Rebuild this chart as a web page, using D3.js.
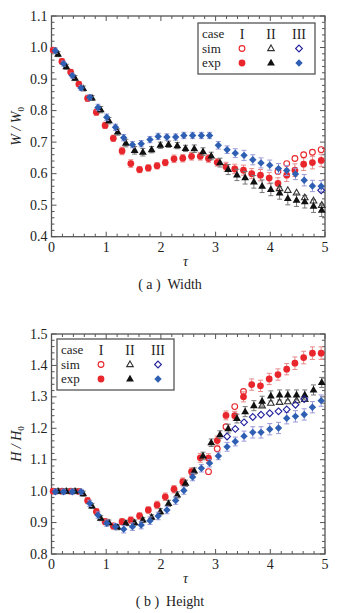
<!DOCTYPE html>
<html><head><meta charset="utf-8">
<script src="https://cdn.jsdelivr.net/npm/d3@7/dist/d3.min.js"></script>
<style>
html,body{margin:0;padding:0;background:#fff;}
</style></head><body>
<svg id="c" width="352" height="613" font-family="'Liberation Serif', 'Times New Roman', 'DejaVu Serif', serif"></svg>
<script>
// ---------- data ----------
const tauI   = [0.03,0.19,0.35,0.50,0.66,0.82,0.98,1.13,1.29,1.45,1.61,1.77,1.93,2.08,2.24,2.40,2.56,2.72,2.87,3.03,3.19,3.35,3.51,3.66,3.82,3.98,4.14,4.30,4.45,4.61,4.77,4.93];
const tauII  = [0.12,0.27,0.43,0.58,0.74,0.90,1.05,1.21,1.36,1.52,1.67,1.83,1.99,2.14,2.30,2.45,2.61,2.77,2.92,3.08,3.23,3.39,3.54,3.70,3.85,4.01,4.17,4.32,4.48,4.63,4.79,4.94];
const tauIII = [0.07,0.22,0.38,0.54,0.70,0.85,1.01,1.17,1.32,1.48,1.64,1.80,1.95,2.11,2.27,2.42,2.58,2.74,2.89,3.05,3.21,3.36,3.52,3.68,3.83,3.99,4.15,4.30,4.46,4.62,4.77,4.93];

// (a) Width  W/W0
const wExpI   = [0.992,0.956,0.922,0.884,0.839,0.795,0.753,0.712,0.672,0.632,0.613,0.618,0.625,0.635,0.647,0.649,0.655,0.655,0.648,0.636,0.622,0.615,0.611,0.600,0.595,0.586,0.569,0.595,0.611,0.630,0.635,0.642];
const wExpII  = [0.979,0.939,0.903,0.870,0.840,0.803,0.768,0.732,0.697,0.674,0.668,0.676,0.690,0.693,0.689,0.680,0.679,0.670,0.656,0.635,0.613,0.596,0.587,0.574,0.560,0.550,0.539,0.521,0.516,0.511,0.497,0.484];
const wExpIII = [0.990,0.949,0.911,0.872,0.842,0.810,0.779,0.747,0.714,0.692,0.695,0.708,0.718,0.716,0.716,0.721,0.721,0.721,0.721,0.690,0.676,0.665,0.658,0.644,0.634,0.627,0.616,0.610,0.599,0.579,0.561,0.560];
const wSimI   = [null,null,null,null,null,null,null,null,null,null,null,null,null,null,null,null,null,null,null,null,null,null,null,null,null,null,0.607,0.632,0.648,0.660,0.668,0.676];
const wSimII  = [null,null,null,null,null,null,null,null,null,null,null,null,null,null,null,null,null,null,null,null,null,null,null,null,null,null,0.553,0.547,0.539,0.524,0.514,0.500];
const wSimIII = [null,null,null,null,null,null,null,null,null,null,null,null,null,null,null,null,null,null,null,null,null,null,null,null,null,null,null,null,null,null,null,0.547];
const wErrI   = [0.008,0.008,0.008,0.008,0.010,0.010,0.010,0.010,0.012,0.012,0.010,0.010,0.010,0.010,0.012,0.012,0.012,0.012,0.012,0.012,0.014,0.015,0.016,0.016,0.018,0.018,0.018,0.020,0.020,0.020,0.020,0.020];
const wErrII  = [0.008,0.008,0.008,0.008,0.008,0.010,0.010,0.010,0.012,0.012,0.012,0.010,0.010,0.010,0.010,0.010,0.012,0.012,0.012,0.014,0.016,0.018,0.020,0.020,0.020,0.020,0.020,0.020,0.020,0.020,0.020,0.020];
const wErrIII = [0.008,0.008,0.008,0.008,0.008,0.010,0.010,0.010,0.010,0.010,0.010,0.010,0.010,0.010,0.010,0.010,0.010,0.010,0.010,0.012,0.012,0.014,0.016,0.016,0.016,0.016,0.016,0.016,0.018,0.018,0.018,0.018];

// (b) Height  H/H0
const hExpI   = [1.000,1.000,1.000,0.999,0.970,0.935,0.903,0.889,0.903,0.908,0.921,0.940,0.956,0.982,1.006,1.030,1.062,1.106,1.105,1.161,1.241,1.240,1.300,1.339,1.335,1.357,1.371,1.388,1.407,1.425,1.439,1.439];
const hExpII  = [1.000,1.000,1.000,0.992,0.953,0.914,0.900,0.885,0.898,0.900,0.908,0.917,0.935,0.961,0.988,1.025,1.064,1.112,1.154,1.180,1.199,1.231,1.253,1.272,1.286,1.303,1.306,1.306,1.306,1.306,1.322,1.346];
const hExpIII = [0.998,0.998,0.998,0.998,0.961,0.924,0.898,0.887,0.879,0.887,0.892,0.906,0.921,0.940,0.970,1.002,1.045,1.073,1.089,1.112,1.141,1.158,1.175,1.187,1.187,1.197,1.201,1.232,1.238,1.244,1.267,1.288];
const hSimI   = [null,null,null,null,null,null,null,null,null,null,null,null,null,null,null,null,null,null,1.062,1.135,1.205,1.269,1.317,null,null,null,null,null,null,null,null,null];
const hSimII  = [null,null,null,null,null,null,null,null,null,null,null,null,null,null,null,null,null,null,null,null,null,null,null,null,1.272,1.280,1.283,1.285,1.288,1.292,null,null];
const hSimIII = [null,null,null,null,null,null,null,null,null,null,null,null,null,null,null,null,null,null,null,null,1.174,1.198,1.219,1.236,1.243,1.248,1.254,1.260,1.275,1.293,null,null];
const hErrI   = [0.008,0.008,0.008,0.008,0.010,0.010,0.010,0.010,0.010,0.010,0.010,0.010,0.012,0.012,0.012,0.012,0.012,0.014,0.014,0.014,0.014,0.014,0.016,0.018,0.018,0.018,0.018,0.018,0.020,0.020,0.020,0.020];
const hErrII  = [0.008,0.008,0.008,0.008,0.008,0.008,0.008,0.008,0.008,0.008,0.008,0.008,0.010,0.010,0.010,0.010,0.010,0.012,0.012,0.012,0.014,0.014,0.016,0.016,0.016,0.016,0.016,0.016,0.016,0.016,0.016,0.016];
const hErrIII = [0.008,0.008,0.008,0.008,0.010,0.010,0.010,0.010,0.012,0.012,0.012,0.012,0.012,0.012,0.012,0.012,0.012,0.012,0.012,0.012,0.014,0.014,0.016,0.018,0.018,0.018,0.018,0.018,0.018,0.018,0.018,0.018];

const xTicks  = [0,1,2,3,4,5];
const wTicks  = [0.4,0.5,0.6,0.7,0.8,0.9,1.0,1.1];
const hTicks  = [0.8,0.9,1.0,1.1,1.2,1.3,1.4,1.5];
const caseNames = ["I","II","III"];
const captions = ["( a )  Width","( b )  Height"];

// ---------- style ----------
const FONT = "'Liberation Serif', 'Times New Roman', 'DejaVu Serif', serif";
const col = {
  I:   {fill:"#e8262c", open:"#e8262c", err:"#e88a8a"},
  II:  {fill:"#111111", open:"#333333", err:"#777777"},
  III: {fill:"#2f5fb3", open:"#1f1f9a", err:"#9a9ad8"}
};
const shapes = {I:"circle", II:"triangle", III:"diamond"};

const svg = d3.select("#c");

function txt(sel){ return sel.append("text").attr("font-family",FONT).attr("fill","#222"); }

function markerPath(shape, filled){
  if(shape==="circle") return d3.symbol().type(d3.symbolCircle).size(filled?36:26)();
  if(shape==="triangle"){ const s=filled?7.8:6.6, h=s*0.866; return `M0,${-h*0.62}L${s/2},${h*0.38}L${-s/2},${h*0.38}Z`; }
  const r=filled?3.7:3.4; return `M0,${-r}L${r},0L0,${r}L${-r},0Z`;
}

function panel(cfg){
  const x = d3.scaleLinear().domain([0,5]).range([51.5,325]);
  const y = d3.scaleLinear().domain(cfg.ydom).range(cfg.yrange);
  const g = svg.append("g");
  const frame = "#555";
  const minorX = d3.range(0,5.0001,0.2).map(v=>+v.toFixed(2));
  const minorY = d3.range(cfg.ydom[0],cfg.ydom[1]+1e-9,0.02).map(v=>+v.toFixed(3));
  const isMajX = v=>Math.abs(v-Math.round(v))<1e-6;
  const isMajY = v=>Math.abs(v*10-Math.round(v*10))<1e-6;
  const y0=y.range()[0], y1=y.range()[1], x0=x.range()[0], x1=x.range()[1];
  minorX.forEach(v=>{
    const L=isMajX(v)?5:3;
    g.append("line").attr("x1",x(v)).attr("x2",x(v)).attr("y1",y0).attr("y2",y0-L).attr("stroke",frame).attr("stroke-width",1);
    g.append("line").attr("x1",x(v)).attr("x2",x(v)).attr("y1",y1).attr("y2",y1+L).attr("stroke",frame).attr("stroke-width",1);
  });
  minorY.forEach(v=>{
    const L=isMajY(v)?5:3;
    g.append("line").attr("y1",y(v)).attr("y2",y(v)).attr("x1",x0).attr("x2",x0+L).attr("stroke",frame).attr("stroke-width",1);
    g.append("line").attr("y1",y(v)).attr("y2",y(v)).attr("x1",x1).attr("x2",x1-L).attr("stroke",frame).attr("stroke-width",1);
  });
  g.append("rect").attr("x",x0).attr("y",y1).attr("width",x1-x0).attr("height",y0-y1)
    .attr("fill","none").attr("stroke",frame).attr("stroke-width",1.3);
  xTicks.forEach(v=>txt(g).attr("x",x(v)).attr("y",y0+15).attr("text-anchor","middle").attr("font-size",14).text(v));
  cfg.yticks.forEach(v=>txt(g).attr("x",x0-4).attr("y",y(v)+4.5).attr("text-anchor","end").attr("font-size",14).text(v.toFixed(1)));
  txt(g).attr("x",x(2.45)).attr("y",y0+29).attr("text-anchor","middle").attr("font-size",14).attr("font-style","italic").text("τ");
  const yl = txt(g).attr("transform",`translate(${21},${(y0+y1)/2}) rotate(-90)`).attr("text-anchor","middle").attr("font-size",14).attr("font-style","italic");
  yl.append("tspan").text(cfg.ylab+" / "+cfg.ylab);
  yl.append("tspan").attr("font-size",9).attr("dy",3).attr("font-style","normal").text("0");
  txt(g).attr("x",170).attr("y",cfg.capY).attr("text-anchor","middle").attr("font-size",14).style("white-space","pre").text(cfg.caption);

  cfg.series.forEach(s=>{
    const c = col[s.key], sh = shapes[s.key];
    const pts = s.tau.map((t,i)=>({t, e:s.exp[i], err:s.err[i], sim:s.sim[i]}));
    const eg = g.append("g").attr("stroke",c.err).attr("stroke-width",1);
    pts.forEach(p=>{
      const px=x(p.t), ya=y(p.e+p.err), yb=y(p.e-p.err);
      eg.append("line").attr("x1",px).attr("x2",px).attr("y1",ya).attr("y2",yb);
      eg.append("line").attr("x1",px-2.5).attr("x2",px+2.5).attr("y1",ya).attr("y2",ya);
      eg.append("line").attr("x1",px-2.5).attr("x2",px+2.5).attr("y1",yb).attr("y2",yb);
    });
    g.append("g").selectAll("path").data(pts.filter(p=>p.sim!=null)).join("path")
      .attr("d",markerPath(sh,false)).attr("transform",p=>`translate(${x(p.t)},${y(p.sim)})`)
      .attr("fill","none").attr("stroke",c.open).attr("stroke-width",1.1);
    g.append("g").selectAll("path").data(pts).join("path")
      .attr("d",markerPath(sh,true)).attr("transform",p=>`translate(${x(p.t)},${y(p.e)})`)
      .attr("fill",c.fill);
  });

  const L = cfg.leg;
  const lg = g.append("g");
  lg.append("rect").attr("x",L.x).attr("y",L.y).attr("width",L.w).attr("height",L.h)
    .attr("fill","#fff").attr("stroke","#555").attr("stroke-width",1.3);
  const rows=[L.y+11,L.y+25.5,L.y+40];
  const cols=[L.x+44,L.x+73,L.x+101];
  txt(lg).attr("x",L.x+4).attr("y",rows[0]+4).attr("font-size",13).text("case");
  txt(lg).attr("x",L.x+4).attr("y",rows[1]+4).attr("font-size",13).text("sim");
  txt(lg).attr("x",L.x+4).attr("y",rows[2]+4).attr("font-size",13).text("exp");
  caseNames.forEach((k,j)=>{
    txt(lg).attr("x",cols[j]).attr("y",rows[0]+5).attr("text-anchor","middle").attr("font-size",14).text(k);
    lg.append("path").attr("d",markerPath(shapes[k],false)).attr("transform",`translate(${cols[j]},${rows[1]})`)
      .attr("fill","none").attr("stroke",col[k].open).attr("stroke-width",1.1);
    lg.append("path").attr("d",markerPath(shapes[k],true)).attr("transform",`translate(${cols[j]},${rows[2]})`)
      .attr("fill",col[k].fill);
  });
}

panel({ydom:[0.4,1.1], yrange:[236.7,16], yticks:wTicks, ylab:"W", caption:captions[0], capY:289,
  leg:{x:198,y:23,w:117,h:51},
  series:[
    {key:"I",tau:tauI,exp:wExpI,sim:wSimI,err:wErrI},
    {key:"II",tau:tauII,exp:wExpII,sim:wSimII,err:wErrII},
    {key:"III",tau:tauIII,exp:wExpIII,sim:wSimIII,err:wErrIII}]});
panel({ydom:[0.8,1.5], yrange:[554,334], yticks:hTicks, ylab:"H", caption:captions[1], capY:606,
  leg:{x:57,y:339,w:117,h:51},
  series:[
    {key:"I",tau:tauI,exp:hExpI,sim:hSimI,err:hErrI},
    {key:"II",tau:tauII,exp:hExpII,sim:hSimII,err:hErrII},
    {key:"III",tau:tauIII,exp:hExpIII,sim:hSimIII,err:hErrIII}]});
</script>
</body></html>
